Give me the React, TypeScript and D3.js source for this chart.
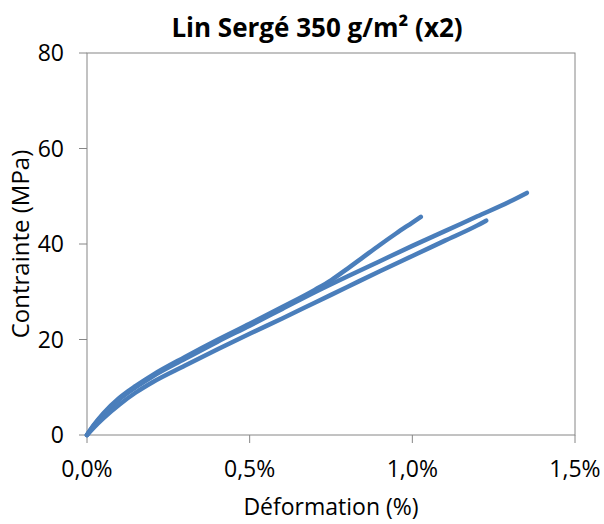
import React from "react";
import * as d3 from "d3";

const title = "Lin Sergé 350 g/m² (x2)";
const xTitle = "Déformation (%)";
const yTitle = "Contrainte (MPa)";
const xTicks = [0, 0.5, 1.0, 1.5];
const yTicks = [0, 20, 40, 60, 80];

// strain (%) / stress (MPa)
const curveA: [number, number][] = [
  [0, 0], [0.02, 2.0], [0.05, 4.5], [0.1, 7.8], [0.15, 10.3], [0.2, 12.5], [0.3, 16.3],
  [0.4, 19.9], [0.5, 23.3], [0.6, 26.8], [0.7, 30.4], [0.75, 32.4], [0.8, 34.8], [0.85, 37.3],
  [0.9, 39.8], [0.95, 42.2], [1.0, 44.5], [1.026, 45.7],
];
const curveB: [number, number][] = [
  [0, 0], [0.02, 1.9], [0.05, 4.3], [0.1, 7.5], [0.15, 10.0], [0.2, 12.2], [0.3, 15.9],
  [0.4, 19.5], [0.5, 22.9], [0.6, 26.4], [0.7, 29.9], [0.8, 33.2], [0.9, 36.4],
  [1.0, 39.6], [1.1, 42.7], [1.2, 45.8], [1.3, 48.9], [1.352, 50.7],
];
const curveC: [number, number][] = [
  [0, 0], [0.02, 1.5], [0.05, 3.5], [0.1, 6.4], [0.15, 8.9], [0.2, 11.0], [0.3, 14.5],
  [0.4, 17.9], [0.5, 21.2], [0.6, 24.4], [0.7, 27.7], [0.8, 31.0], [0.9, 34.3],
  [1.0, 37.5], [1.1, 40.7], [1.2, 43.9], [1.227, 44.9],
];
const curves = [curveA, curveB, curveC];

const W = 604;
const H = 524;
const left = 87;
const right = 575;
const top = 53;
const bottom = 435;
const axisColor = "#868686";
const lineColor = "#4a7ebb";
const font = "'Open Sans', sans-serif";

export default function App() {
  const x = d3.scaleLinear().domain([0, 1.5]).range([left, right]);
  const y = d3.scaleLinear().domain([0, 80]).range([bottom, top]);
  const line = d3
    .line<[number, number]>()
    .x((d) => x(d[0]))
    .y((d) => y(d[1]))
    .curve(d3.curveMonotoneX);
  const fmt = (v: number) => v.toFixed(1).replace(".", ",") + "%";

  return (
    <svg width={W} height={H} style={{ position: "absolute", left: 0, top: 0, background: "#fff" }}>
      <rect x={0} y={0} width={W} height={H} fill="#fff" />
      <text x={317} y={37} textAnchor="middle" fontFamily={font} fontWeight="bold" fontSize={26} fill="#000">
        {title}
      </text>
      <rect x={left} y={top} width={right - left} height={bottom - top} fill="none" stroke={axisColor} strokeWidth={1} />
      {yTicks.map((t) => (
        <g key={"y" + t}>
          <line x1={left - 8} x2={left} y1={y(t)} y2={y(t)} stroke={axisColor} />
          <text x={left - 23} y={y(t)} dy="0.36em" textAnchor="end" fontFamily={font} fontSize={23} fill="#000">
            {t}
          </text>
        </g>
      ))}
      {xTicks.map((t) => (
        <g key={"x" + t}>
          <line x1={x(t)} x2={x(t)} y1={bottom} y2={bottom + 8} stroke={axisColor} />
          <text x={x(t)} y={bottom + 42} textAnchor="middle" fontFamily={font} fontSize={23} fill="#000">
            {fmt(t)}
          </text>
        </g>
      ))}
      <text x={(left + right) / 2} y={515} textAnchor="middle" fontFamily={font} fontSize={23} fill="#000">
        {xTitle}
      </text>
      <text
        transform={`translate(29, ${(top + bottom) / 2}) rotate(-90)`}
        textAnchor="middle"
        fontFamily={font}
        fontSize={24}
        fill="#000"
      >
        {yTitle}
      </text>
      {curves.map((c, i) => (
        <path key={i} d={line(c) || ""} fill="none" stroke={lineColor} strokeWidth={4.5} strokeLinecap="round" strokeLinejoin="round" />
      ))}
    </svg>
  );
}
